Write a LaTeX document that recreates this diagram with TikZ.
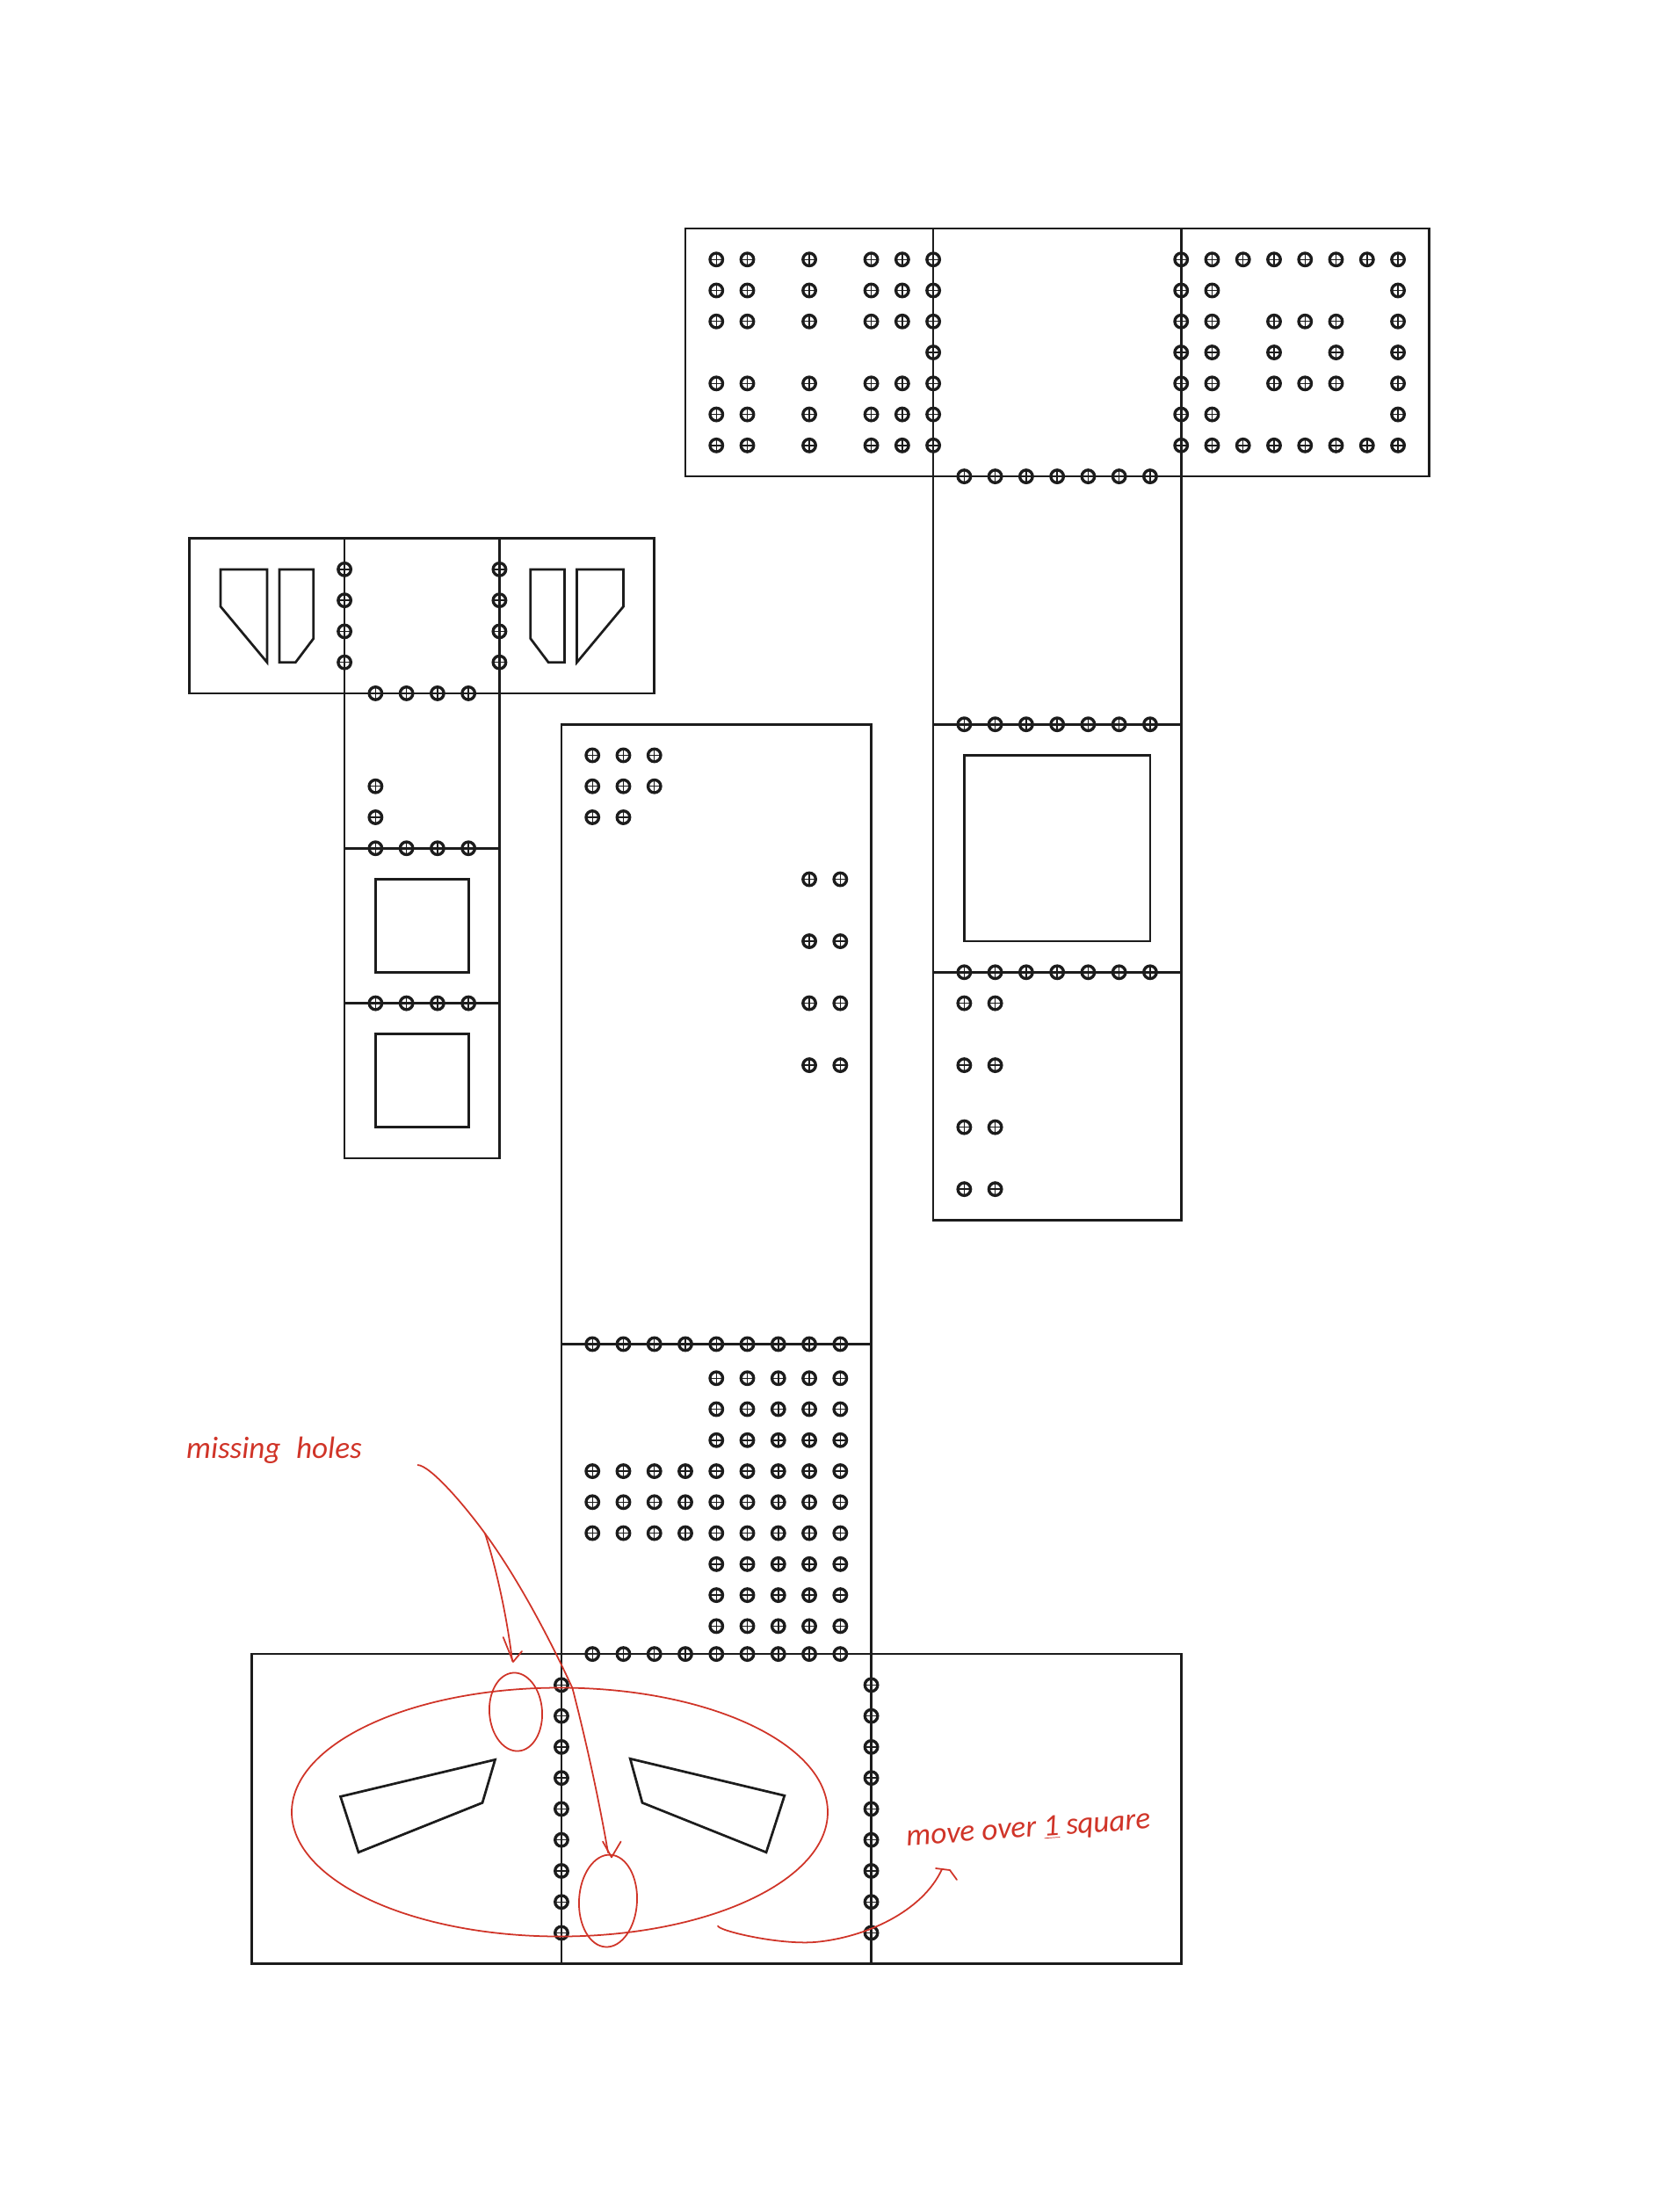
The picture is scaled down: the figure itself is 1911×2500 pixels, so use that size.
\documentclass[tikz,border=0pt]{standalone}
\usepackage{fontspec}
\setmainfont{Carlito}
\definecolor{ink}{RGB}{28,28,28}
\definecolor{pen}{RGB}{208,52,40}
\tikzset{
  plate/.style={draw=ink,line width=1.55pt,line join=miter},
  fold/.style={draw=ink,line width=1.55pt},
  redpen/.style={draw=pen,line width=1pt,line cap=round,line join=round},
  note/.style={text=pen,font=\fontsize{20}{22}\selectfont\itshape,inner sep=0pt},
  hole/.pic={
    \draw[ink,line width=1.9pt] (0,0) circle[radius=0.145cm];
    \draw[ink,line width=0.8pt] (-0.145cm,0) -- (0.145cm,0) (0,-0.145cm) -- (0,0.145cm);
  }
}
\newcommand{\holes}[2]{\foreach \k in {#1}{\foreach \j in {#2}{\pic at (\k,\j) {hole};}}}
\begin{document}
\begin{tikzpicture}[x=0.02cm,y=-0.02cm]
\fill[white] (0,0) rectangle (1911,2500);
\useasboundingbox (0,0) rectangle (1911,2500);
\begin{scope}[shift={(780,260)},x=0.7054cm,y=-0.7054cm]
  % upper right cross
  \draw[plate] (0,0) rectangle (24,8);
  \draw[fold] (8,0) -- (8,32) -- (16,32) -- (16,0);
  \draw[fold] (8,16) -- (16,16) (8,24) -- (16,24);
  \draw[plate] (9,17) rectangle (15,23);
  \holes{1,2,4,6,7,8}{1,2,3,5,6,7}
  \holes{8}{4}
  \holes{9,...,15}{8,16,24}
  \holes{16,...,23}{1,7}
  \holes{16,17,23}{2,3,4,5,6}
  \holes{19,20,21}{3,5}
  \holes{19,21}{4}
  \holes{9,10}{25,27,29,31}
  % upper left cross
  \draw[plate] (-16,10) rectangle (-1,15);
  \draw[fold] (-11,10) -- (-11,30) -- (-6,30) -- (-6,10);
  \draw[fold] (-11,20) -- (-6,20) (-11,25) -- (-6,25);
  \draw[plate] (-10,21) rectangle (-7,24);
  \draw[plate] (-10,26) rectangle (-7,29);
  \draw[plate] (-15,11) -- (-13.5,11) -- (-13.5,14) -- (-15,12.2) -- cycle;
  \draw[plate] (-13.1,11) -- (-12,11) -- (-12,13.23) -- (-12.58,14) -- (-13.1,14) -- cycle;
  \draw[plate] (-2,11) -- (-3.5,11) -- (-3.5,14) -- (-2,12.2) -- cycle;
  \draw[plate] (-3.9,11) -- (-5,11) -- (-5,13.23) -- (-4.42,14) -- (-3.9,14) -- cycle;
  \holes{-11,-6}{11,12,13,14}
  \holes{-10,-9,-8,-7}{15,20,25}
  \holes{-10}{18,19}
  % lower cross
  \draw[plate] (-4,16) rectangle (6,46);
  \draw[plate] (-14,46) rectangle (16,56);
  \draw[fold] (-4,46) -- (-4,56) (6,46) -- (6,56) (-4,36) -- (6,36);
  \draw[plate] (-11.13,50.6) -- (-6.14,49.41) -- (-6.55,50.8) -- (-10.55,52.4) -- cycle;
  \draw[plate] (-1.78,49.38) -- (3.2,50.57) -- (2.61,52.4) -- (-1.39,50.8) -- cycle;
  \holes{-3,-2,-1}{17,18}
  \holes{-3,-2}{19}
  \holes{4,5}{21,23,25,27}
  \holes{-3,...,5}{36,46,40.1,41.1,42.1}
  \holes{1,...,5}{37.1,38.1,39.1,43.1,44.1,45.1}
  \holes{-4,6}{47,...,55}
\end{scope}
% red annotations
\draw[redpen] (637,2062) ellipse[x radius=305,y radius=141.5];
\draw[redpen,rotate around={4:(587,1948)}] (587,1948) ellipse[x radius=30,y radius=44.6];
\draw[redpen,rotate around={-3:(692,2163)}] (692,2163) ellipse[x radius=33,y radius=52.5];
\draw[redpen] (475.5,1667) .. controls (490,1668) and (528,1712) .. (552,1745)
  .. controls (596,1805) and (635,1885) .. (651.5,1921)
  .. controls (668,1985) and (682,2050) .. (692,2108);
\draw[redpen] (686,2095.5) -- (696,2113.4) -- (706.6,2095.5);
\draw[redpen] (552,1745) .. controls (565,1785) and (577,1840) .. (583,1890);
\draw[redpen] (572.7,1863) -- (584,1891) -- (594,1879);
\draw[redpen] (817,2191.5) .. controls (818,2197) and (885,2213) .. (927,2210)
  .. controls (985,2205) and (1050,2175) .. (1072,2127);
\draw[redpen] (1065,2126) -- (1081,2128) -- (1089,2139);
\node[note,anchor=center] (missing) at (312,1650) {missing\hspace{0.5em}holes};
\node[note,anchor=center,rotate=4] (moveover) at (1171,2082) {move over \underline{1} square};
\end{tikzpicture}
\end{document}
